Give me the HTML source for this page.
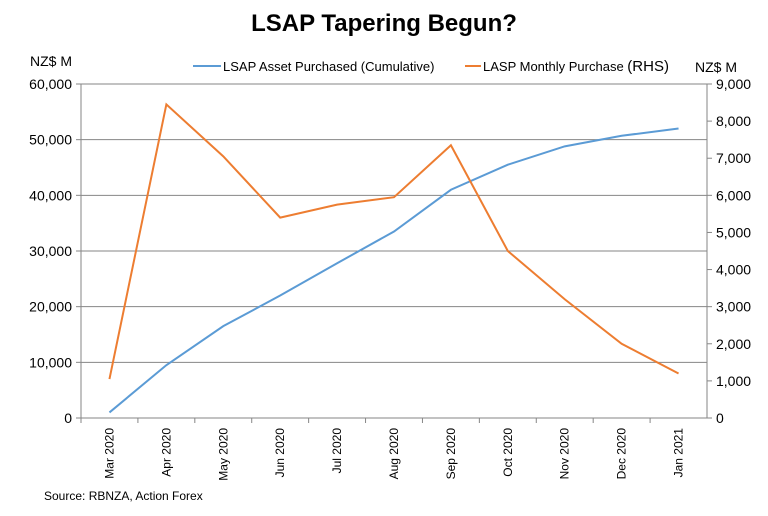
<!DOCTYPE html>
<html><head><meta charset="utf-8"><style>
body{margin:0;background:#fff;}
svg text{font-family:"Liberation Sans",Arial,sans-serif;fill:#000;}
</style></head><body>
<svg id="chart" width="768" height="511" viewBox="0 0 768 511">
<text x="384" y="31" text-anchor="middle" font-size="24" font-weight="bold">LSAP Tapering Begun?</text>
<text x="30" y="66" font-size="14">NZ$ M</text>
<text x="695" y="72" font-size="14">NZ$ M</text>
<g>
<g><line x1="193" y1="66" x2="221" y2="66" stroke="#5b9bd5" stroke-width="2"/><text x="223" y="71" font-size="13">LSAP Asset Purchased (Cumulative)</text></g>
<g><line x1="465" y1="66" x2="481" y2="66" stroke="#ed7d31" stroke-width="2"/><text x="483" y="71" font-size="13">LASP Monthly Purchase <tspan font-size="15">(RHS)</tspan></text></g>
</g>
<g id="grid"></g><g id="axes"></g><g id="series"></g>
<text x="44" y="500" font-size="12">Source: RBNZA, Action Forex</text>
</svg>
<script>
const categories=["Mar 2020","Apr 2020","May 2020","Jun 2020","Jul 2020","Aug 2020","Sep 2020","Oct 2020","Nov 2020","Dec 2020","Jan 2021"];
const cumulative=[1000,9500,16500,22000,27800,33500,41000,45500,48800,50700,52000];
const monthly=[1050,8450,7050,5400,5750,5950,7350,4500,3200,2000,1200];
const leftTicks=[0,10000,20000,30000,40000,50000,60000];
const rightTicks=[0,1000,2000,3000,4000,5000,6000,7000,8000,9000];
const NS="http://www.w3.org/2000/svg";
const X0=81,X1=707,Y0=418,Y1=84;
const bw=(X1-X0)/categories.length;
const xc=i=>X0+bw*(i+0.5);
const yl=v=>Y0-(v/60000)*(Y0-Y1);
const yr=v=>Y0-(v/9000)*(Y0-Y1);
function mk(tag,attrs,parent){const e=document.createElementNS(NS,tag);for(const k in attrs)e.setAttribute(k,attrs[k]);parent.appendChild(e);return e;}
const grid=document.getElementById('grid'),axes=document.getElementById('axes'),series=document.getElementById('series');
const fmt=v=>v.toLocaleString('en-US');
leftTicks.forEach(v=>{
  const y=yl(v);
  if(v>0){const g=mk('line',{x1:X0,x2:X1,y1:y,y2:y,stroke:'#868686','stroke-width':1},grid);
  
  }
  mk('line',{x1:X0-5,x2:X0,y1:y,y2:y,stroke:'#868686'},axes);
  const t=mk('text',{x:X0-9,y:y+5,'text-anchor':'end','font-size':14},axes);t.textContent=fmt(v);
  
  
});
rightTicks.forEach(v=>{
  const y=yr(v);
  mk('line',{x1:X1,x2:X1+5,y1:y,y2:y,stroke:'#868686'},axes);
  const t=mk('text',{x:X1+9,y:y+5,'text-anchor':'start','font-size':14},axes);t.textContent=fmt(v);
  
  
});
mk('line',{x1:X0,x2:X0,y1:Y1,y2:Y0,stroke:'#868686'},axes);
mk('line',{x1:X1,x2:X1,y1:Y1,y2:Y0,stroke:'#868686'},axes);
mk('line',{x1:X0,x2:X1,y1:Y0,y2:Y0,stroke:'#868686'},axes);
categories.forEach((c,i)=>{
  const x=X0+bw*i;
  mk('line',{x1:x,x2:x,y1:Y0,y2:Y0+5,stroke:'#868686'},axes);
  const t=mk('text',{x:0,y:0,'text-anchor':'end','font-size':12,transform:`translate(${xc(i)+4},${Y0+10}) rotate(-90)`},axes);
  t.textContent=c;
  
  
});
const p1=mk('polyline',{points:cumulative.map((v,i)=>xc(i)+','+yl(v)).join(' '),fill:'none',stroke:'#5b9bd5','stroke-width':2},series);


const p2=mk('polyline',{points:monthly.map((v,i)=>xc(i)+','+yr(v)).join(' '),fill:'none',stroke:'#ed7d31','stroke-width':2},series);


</script>
</body></html>
